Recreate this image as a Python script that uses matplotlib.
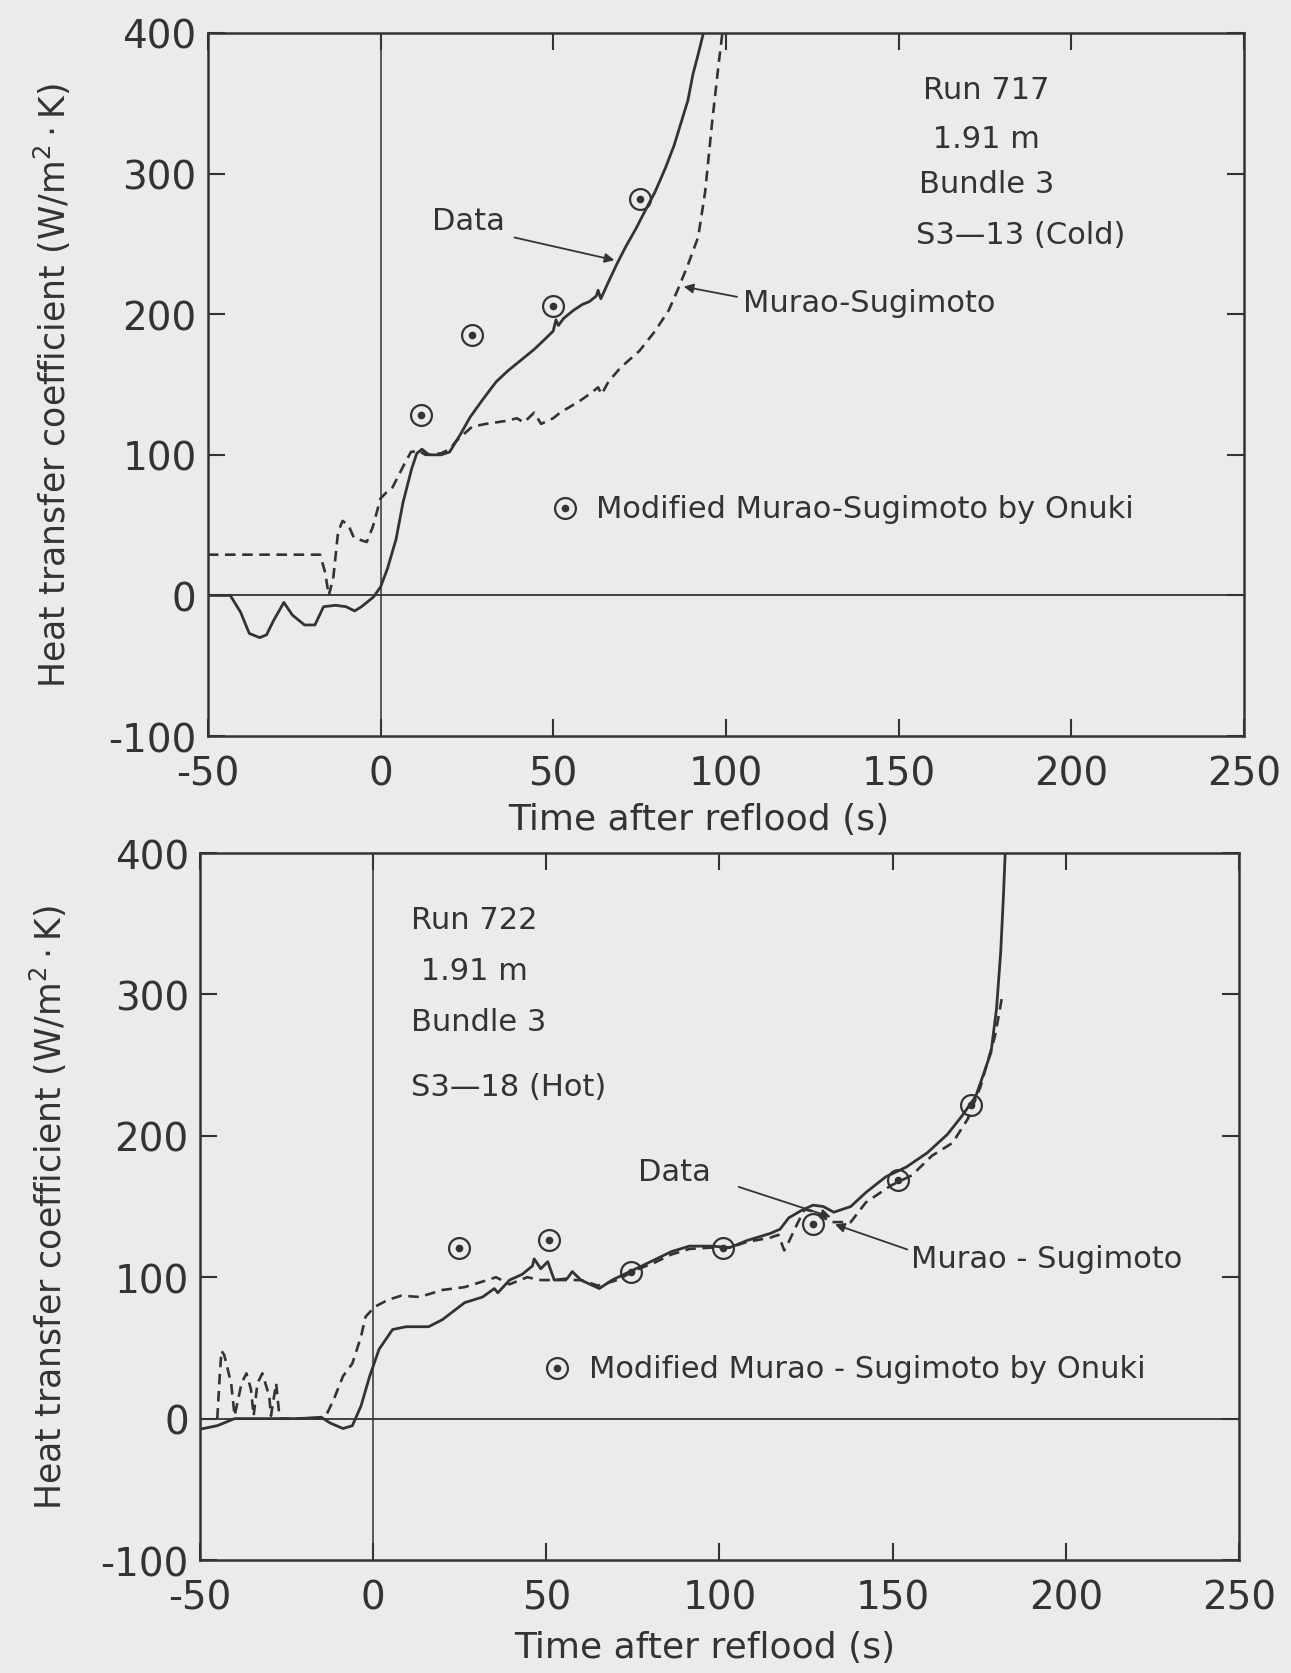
import numpy as np
import matplotlib
matplotlib.use("Agg")
import matplotlib.pyplot as plt

# ---- Run 717 (top panel) ----
top_t_data = [-50, -43.5, -40.5, -38, -35, -33, -31, -28, -25.5, -22,
              -19, -16.5, -13, -10, -7.5, -5.5, -2, 0, 2, 4.5,
              6.5, 9, 10.5, 12, 14, 17.5, 20, 23, 26, 29.5,
              33.5, 37, 41, 44.5, 47.5, 50, 50.8, 51.5, 53, 56,
              58.5, 60.5, 62.5, 63, 63.8, 66, 68.5, 71, 74, 76.5,
              79.5, 82.5, 85, 87, 89, 90.5, 92, 93.5]
top_h_data = [0, 0, -12, -27, -30, -28, -18, -5, -14, -21,
              -21, -8, -7, -8, -11, -8, -1, 6, 19, 40,
              66, 90, 101, 104, 100, 100, 102, 114, 127, 139,
              152, 160, 168, 175, 182, 188, 196, 192, 197, 203,
              207, 209, 213, 217, 211, 223, 236, 248, 261, 273,
              287, 304, 320, 336, 352, 371, 385, 400]
top_t_ms = [-50, -17.5, -16, -15, -13.7, -12.3, -11, -9.3, -7.7, -4,
            -2.2, 0, 1.6, 3.3, 6.6, 8.8, 11, 13, 17.5, 20,
            22, 26.5, 30.5, 36, 39.5, 41.5, 44.5, 46.5, 50, 52,
            57.5, 61, 63, 64, 66, 69.5, 75, 79.5, 83.5, 86,
            89, 92, 94, 96, 98, 99]
top_h_ms = [29, 29, 16, 0, 12, 45, 53, 50, 41, 38,
            49, 69, 73, 76, 92, 102, 103, 100, 101, 104,
            110, 120, 122, 124, 126, 123, 130, 122, 126, 130,
            138, 144, 148, 143, 152, 162, 174, 188, 203, 217,
            235, 255, 287, 336, 380, 400]
top_t_onuki = [11.7, 26.5, 50, 75]
top_h_onuki = [128, 185, 206, 282]

# ---- Run 722 (bottom panel) ----
bot_t_data = [-50, -45, -40, -36, -31, -27, -21.5, -15, -12.5, -8.7,
              -6, -3.5, -1, 1.7, 5.6, 9.5, 16, 20, 26.4, 31.6,
              35, 36, 39.4, 43, 46, 46.5, 48.4, 50.4, 52.3, 56,
              57.5, 60, 65.3, 69, 75, 81, 86, 91.3, 97.8, 103,
              108, 114.7, 117.5, 120, 123.5, 127, 130, 133, 137.9, 142.3,
              148, 154, 160, 165.8, 170, 174, 176, 178.4, 180, 181.2,
              182, 182.5]
bot_h_data = [-7.5, -5, 0, 0, 0, 0, 0, 1, -3, -7,
              -5, 9, 30, 49, 63, 65, 65, 70, 82, 86,
              92, 89, 98, 102, 108, 113, 106, 111, 98, 99,
              104, 98, 92, 98, 105, 112, 118, 122, 122, 121,
              126, 131, 134, 142, 147, 151, 150, 146, 150, 160,
              171, 178, 188, 201, 214, 228, 242, 259, 290, 330,
              370, 400]
bot_t_ms = [-45, -44.3, -43.8, -43, -41, -40, -38, -36.6, -35.3, -34.5,
            -33.4, -32, -30, -29.5, -28, -27, -20, -14, -11.3, -8.7,
            -6, -3.5, -2.2, 0.4, 4.3, 8.2, 13.4, 20, 26.4, 33,
            35.5, 39.4, 44.5, 48.4, 55, 60, 65, 70.5, 75.7, 81,
            86, 91.3, 97.8, 103, 108, 114.7, 117, 118.7, 120, 122.5,
            124.6, 128, 132, 137.9, 142.3, 149.6, 155.5, 161.4, 167.3, 171.7,
            175.4, 177.6, 179.5, 181, 181.7]
bot_h_ms = [0, 30, 48, 45, 25, 2, 25, 32, 21, 2,
            25, 32, 16, 2, 25, 0, 0, 0, 14, 30,
            39, 58, 72, 79, 84, 87, 86, 91, 93, 98,
            100, 95, 100, 98, 98, 98, 94, 98, 105, 110,
            116, 120, 121, 121, 125, 128, 130, 119, 125, 138,
            148, 146, 139, 139, 153, 165, 172, 186, 195, 212,
            235, 254, 270, 290, 300]
bot_t_onuki = [24.8, 50.8, 74.5, 101, 127, 151.5, 172.5]
bot_h_onuki = [121, 126, 104, 121, 137.5, 169, 222]

xticks = [-50, 0, 50, 100, 150, 200, 250]
yticks = [-100, 0, 100, 200, 300, 400]

ink = "#333333"
bg = "#ebebeb"
plt.rcParams["font.family"] = ["DejaVu Sans"]
plt.rcParams["axes.unicode_minus"] = False
plt.rcParams["text.color"] = ink
plt.rcParams["axes.labelcolor"] = ink
plt.rcParams["xtick.color"] = ink
plt.rcParams["ytick.color"] = ink

fig = plt.figure(figsize=(12.91, 16.74), dpi=100, facecolor=bg)


def onuki(ax, t, h, ms=15):
    ax.plot(t, h, "o", ms=ms, mfc="none", mec=ink, mew=1.6)
    ax.plot(t, h, "o", ms=4.5, color=ink)


def panel(rect, td, hd, tm, hm, to, ho, label_x, label_y, ylab_x):
    ax = fig.add_axes(rect, facecolor=bg)
    ax.plot(td, hd, "-", color=ink, lw=2.0)
    ax.plot(tm, hm, color=ink, lw=1.9, ls=(0, (4, 2.5)))
    onuki(ax, to, ho)
    ax.axhline(0, color=ink, lw=1.3, zorder=0)
    ax.axvline(0, color=ink, lw=1.1, zorder=0)
    ax.set_xlim(-50, 250)
    ax.set_ylim(-100, 400)
    ax.set_xticks(xticks)
    ax.set_yticks(yticks)
    ax.tick_params(direction="in", length=12, width=1.5, labelsize=28,
                   top=True, right=True, pad=8)
    ax.tick_params(axis="x", pad=13)
    for s in ax.spines.values():
        s.set_linewidth(1.8)
        s.set_color(ink)
    ax.set_xlabel("Time after reflood (s)", fontsize=26)
    ax.xaxis.label.set_va("center")
    ax.xaxis.set_label_coords(label_x, label_y)
    ax.set_ylabel(r"Heat transfer coefficient (W/m$^2\cdot$K)", fontsize=25)
    ax.yaxis.label.set_va("center")
    ax.yaxis.set_label_coords(ylab_x, 0.5)
    return ax


fs = 22
arrow = dict(arrowstyle="-|>", color=ink, lw=1.3, mutation_scale=14)

ax1 = panel([0.161, 0.5597, 0.8025, 0.42], top_t_data, top_h_data,
            top_t_ms, top_h_ms, top_t_onuki, top_h_onuki, 0.474, -0.118, -0.15)
for txt, x, y in [("Run 717", 157, 360), (" 1.91 m", 157, 325),
                  ("Bundle 3", 156, 293), ("S3\u201413 (Cold)", 155, 257)]:
    ax1.text(x, y, txt, fontsize=fs, va="center", ha="left")
ax1.annotate("", xy=(68.5, 238), xytext=(38, 255), arrowprops=arrow)
ax1.text(15, 267, "Data", fontsize=fs, va="center")
ax1.annotate("", xy=(87, 220), xytext=(104, 212), arrowprops=arrow)
ax1.text(105, 208, "Murao-Sugimoto", fontsize=fs, va="center")
onuki(ax1, [53.4], [62])
ax1.text(62.3, 62, "Modified Murao-Sugimoto by Onuki", fontsize=fs, va="center")

ax2 = panel([0.1549, 0.0675, 0.8048, 0.4223], bot_t_data, bot_h_data,
            bot_t_ms, bot_h_ms, bot_t_onuki, bot_h_onuki, 0.486, -0.123, -0.146)
for txt, x, y in [("Run 722", 11, 353), (" 1.91 m", 11, 317),
                  ("Bundle 3", 11, 281), ("S3\u201418 (Hot)", 11, 235)]:
    ax2.text(x, y, txt, fontsize=fs, va="center", ha="left")
ax2.annotate("", xy=(132.9, 142), xytext=(104.8, 164.5), arrowprops=arrow)
ax2.text(76.5, 175, "Data", fontsize=fs, va="center")
ax2.annotate("", xy=(132.6, 138), xytext=(155, 119), arrowprops=arrow)
ax2.text(155.4, 113, "Murao - Sugimoto", fontsize=fs, va="center")
onuki(ax2, [53], [35.5])
ax2.text(62.3, 35.5, "Modified Murao - Sugimoto by Onuki", fontsize=fs, va="center")

fig.savefig("out.png", dpi=100, facecolor=bg)
